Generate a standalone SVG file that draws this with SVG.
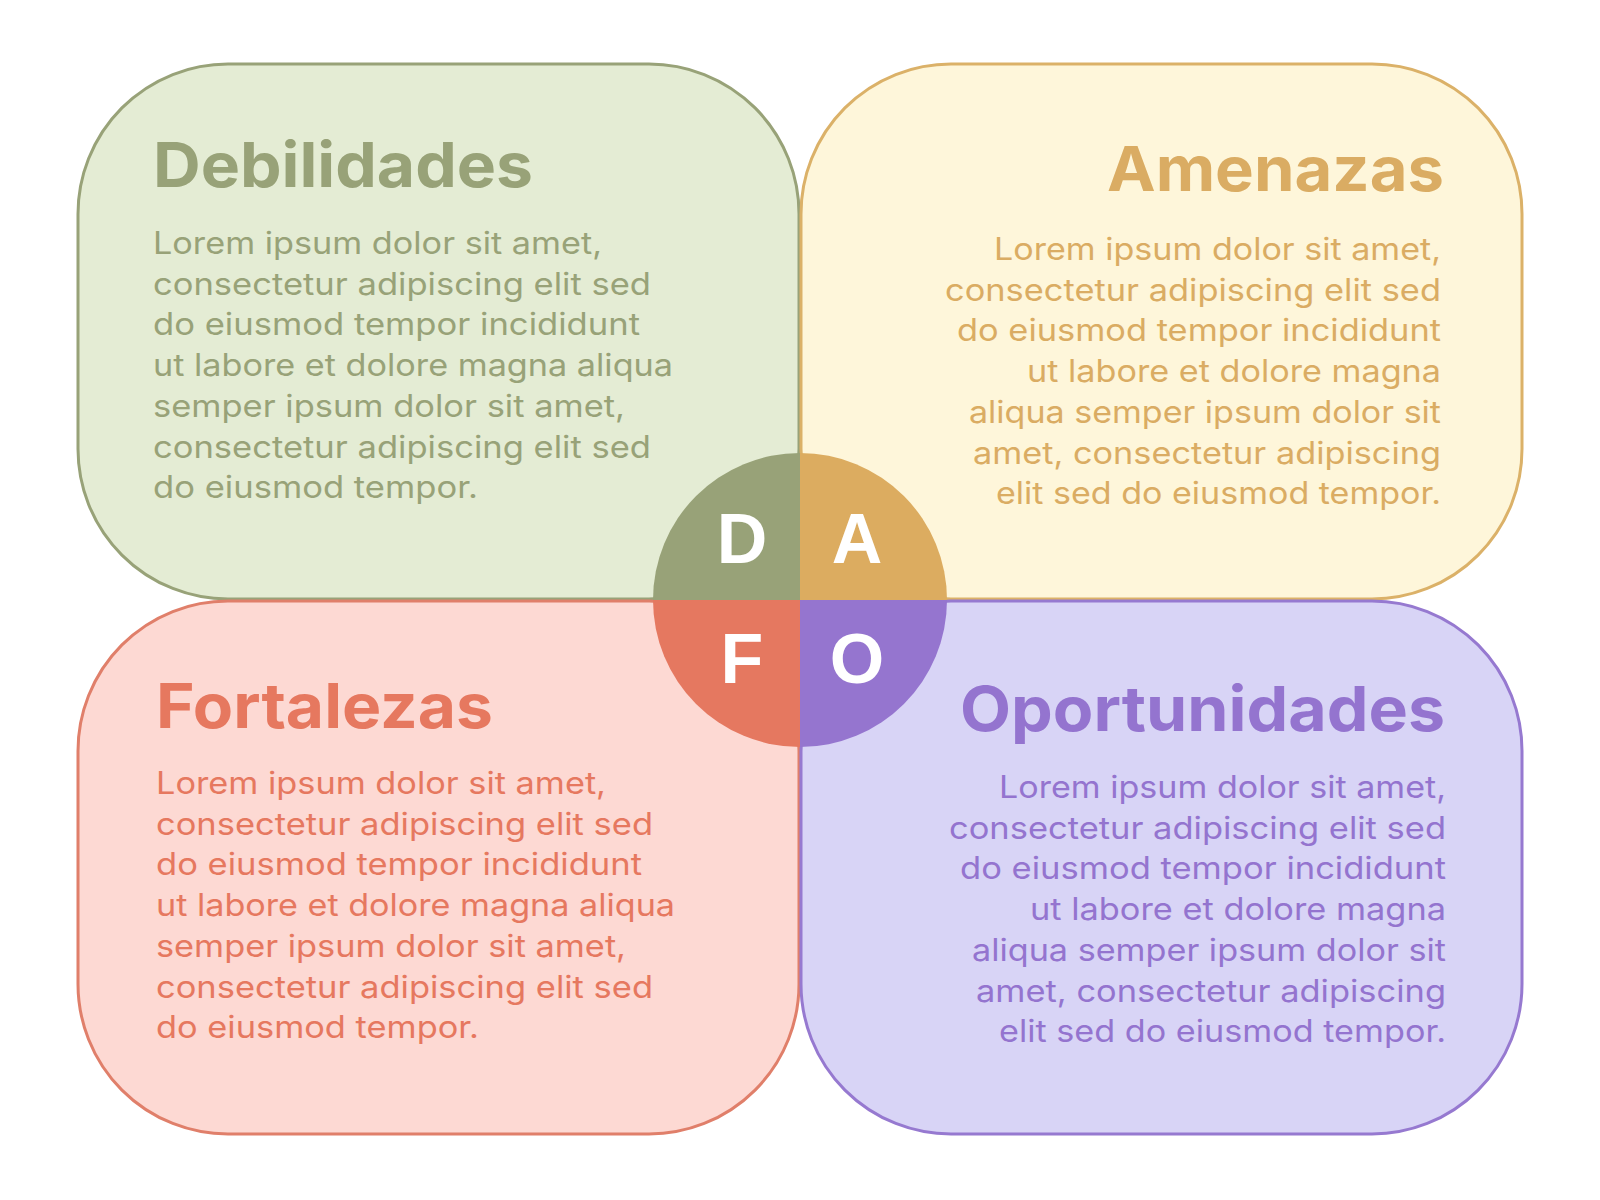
<svg xmlns="http://www.w3.org/2000/svg" width="1600" height="1200" viewBox="0 0 1600 1200">
  <style>
    .box { stroke-width: 3; }
    .title { font-family: Inter, "Liberation Sans", Arial, sans-serif; font-weight: 700; font-size: 62px; }
    .body { font-family: Inter, "Liberation Sans", Arial, sans-serif; font-weight: 400; font-size: 31px; }
    .letter { font-family: "Liberation Sans", Arial, sans-serif; font-weight: 700; font-size: 70px; fill: #ffffff; text-anchor: middle; }
    .end { text-anchor: end; }
    .g-box { fill: #E4ECD4; stroke: #98A278; }
    .g-txt { fill: #98A278; }
    .y-box { fill: #FEF6DA; stroke: #DBB168; }
    .y-txt { fill: #DAAC63; }
    .r-box { fill: #FDD9D3; stroke: #E07F6A; }
    .r-txt { fill: #E6785F; }
    .p-box { fill: #D8D4F6; stroke: #9679D0; }
    .p-txt { fill: #9474CF; }
  </style>
  <rect x="0" y="0" width="1600" height="1200" fill="#ffffff"/>

  <g id="debilidades">
    <rect class="box g-box" x="78" y="64" width="721" height="535" rx="150" ry="150"/>
    <text class="title g-txt" x="153" y="187" textLength="380" lengthAdjust="spacingAndGlyphs">Debilidades</text>
    <g class="body g-txt">
      <text x="153" y="254" textLength="449" lengthAdjust="spacingAndGlyphs">Lorem ipsum dolor sit amet,</text>
      <text x="153" y="294.7" textLength="498" lengthAdjust="spacingAndGlyphs">consectetur adipiscing elit sed</text>
      <text x="153" y="335.4" textLength="487" lengthAdjust="spacingAndGlyphs">do eiusmod tempor incididunt</text>
      <text x="153" y="376.1" textLength="520" lengthAdjust="spacingAndGlyphs">ut labore et dolore magna aliqua</text>
      <text x="153" y="416.8" textLength="472" lengthAdjust="spacingAndGlyphs">semper ipsum dolor sit amet,</text>
      <text x="153" y="457.5" textLength="498" lengthAdjust="spacingAndGlyphs">consectetur adipiscing elit sed</text>
      <text x="153" y="498.2" textLength="325" lengthAdjust="spacingAndGlyphs">do eiusmod tempor.</text>
    </g>
  </g>

  <g id="amenazas">
    <rect class="box y-box" x="801" y="64" width="721" height="535" rx="150" ry="150"/>
    <text class="title y-txt end" x="1444" y="191" textLength="337" lengthAdjust="spacingAndGlyphs">Amenazas</text>
    <g class="body y-txt end">
      <text x="1441" y="260" textLength="447" lengthAdjust="spacingAndGlyphs">Lorem ipsum dolor sit amet,</text>
      <text x="1441" y="300.7" textLength="496" lengthAdjust="spacingAndGlyphs">consectetur adipiscing elit sed</text>
      <text x="1441" y="341.4" textLength="484" lengthAdjust="spacingAndGlyphs">do eiusmod tempor incididunt</text>
      <text x="1441" y="382.1" textLength="414" lengthAdjust="spacingAndGlyphs">ut labore et dolore magna</text>
      <text x="1441" y="422.8" textLength="472" lengthAdjust="spacingAndGlyphs">aliqua semper ipsum dolor sit</text>
      <text x="1441" y="463.5" textLength="468" lengthAdjust="spacingAndGlyphs">amet, consectetur adipiscing</text>
      <text x="1441" y="504.2" textLength="445" lengthAdjust="spacingAndGlyphs">elit sed do eiusmod tempor.</text>
    </g>
  </g>

  <g id="fortalezas">
    <rect class="box r-box" x="78" y="601" width="721" height="533" rx="150" ry="150"/>
    <text class="title r-txt" x="156" y="728" textLength="337" lengthAdjust="spacingAndGlyphs">Fortalezas</text>
    <g class="body r-txt">
      <text x="156" y="794" textLength="450" lengthAdjust="spacingAndGlyphs">Lorem ipsum dolor sit amet,</text>
      <text x="156" y="834.7" textLength="497" lengthAdjust="spacingAndGlyphs">consectetur adipiscing elit sed</text>
      <text x="156" y="875.4" textLength="486" lengthAdjust="spacingAndGlyphs">do eiusmod tempor incididunt</text>
      <text x="156" y="916.1" textLength="519" lengthAdjust="spacingAndGlyphs">ut labore et dolore magna aliqua</text>
      <text x="156" y="956.8" textLength="470" lengthAdjust="spacingAndGlyphs">semper ipsum dolor sit amet,</text>
      <text x="156" y="997.5" textLength="497" lengthAdjust="spacingAndGlyphs">consectetur adipiscing elit sed</text>
      <text x="156" y="1038.2" textLength="323" lengthAdjust="spacingAndGlyphs">do eiusmod tempor.</text>
    </g>
  </g>

  <g id="oportunidades">
    <rect class="box p-box" x="801" y="601" width="721" height="533" rx="150" ry="150"/>
    <text class="title p-txt end" x="1445" y="731" textLength="485" lengthAdjust="spacingAndGlyphs">Oportunidades</text>
    <g class="body p-txt end">
      <text x="1446" y="798" textLength="447" lengthAdjust="spacingAndGlyphs">Lorem ipsum dolor sit amet,</text>
      <text x="1446" y="838.7" textLength="497" lengthAdjust="spacingAndGlyphs">consectetur adipiscing elit sed</text>
      <text x="1446" y="879.4" textLength="486" lengthAdjust="spacingAndGlyphs">do eiusmod tempor incididunt</text>
      <text x="1446" y="920.1" textLength="416" lengthAdjust="spacingAndGlyphs">ut labore et dolore magna</text>
      <text x="1446" y="960.8" textLength="474" lengthAdjust="spacingAndGlyphs">aliqua semper ipsum dolor sit</text>
      <text x="1446" y="1001.5" textLength="470" lengthAdjust="spacingAndGlyphs">amet, consectetur adipiscing</text>
      <text x="1446" y="1042.2" textLength="447" lengthAdjust="spacingAndGlyphs">elit sed do eiusmod tempor.</text>
    </g>
  </g>

  <g id="dafo-circle">
    <g id="quadrant-d">
      <path d="M800,600 L653,600 A147,147 0 0 1 800,453 Z" fill="#98A278"/>
      <text class="letter" x="742" y="563">D</text>
    </g>
    <g id="quadrant-a">
      <path d="M800,600 L800,453 A147,147 0 0 1 947,600 Z" fill="#DCAC60"/>
      <text class="letter" x="857" y="563">A</text>
    </g>
    <g id="quadrant-f">
      <path d="M800,600 L800,747 A147,147 0 0 1 653,600 Z" fill="#E57860"/>
      <text class="letter" x="742" y="683">F</text>
    </g>
    <g id="quadrant-o">
      <path d="M800,600 L947,600 A147,147 0 0 1 800,747 Z" fill="#9575CF"/>
      <text class="letter" x="857" y="683">O</text>
    </g>
  </g>

  <g id="connectors"/>
</svg>
